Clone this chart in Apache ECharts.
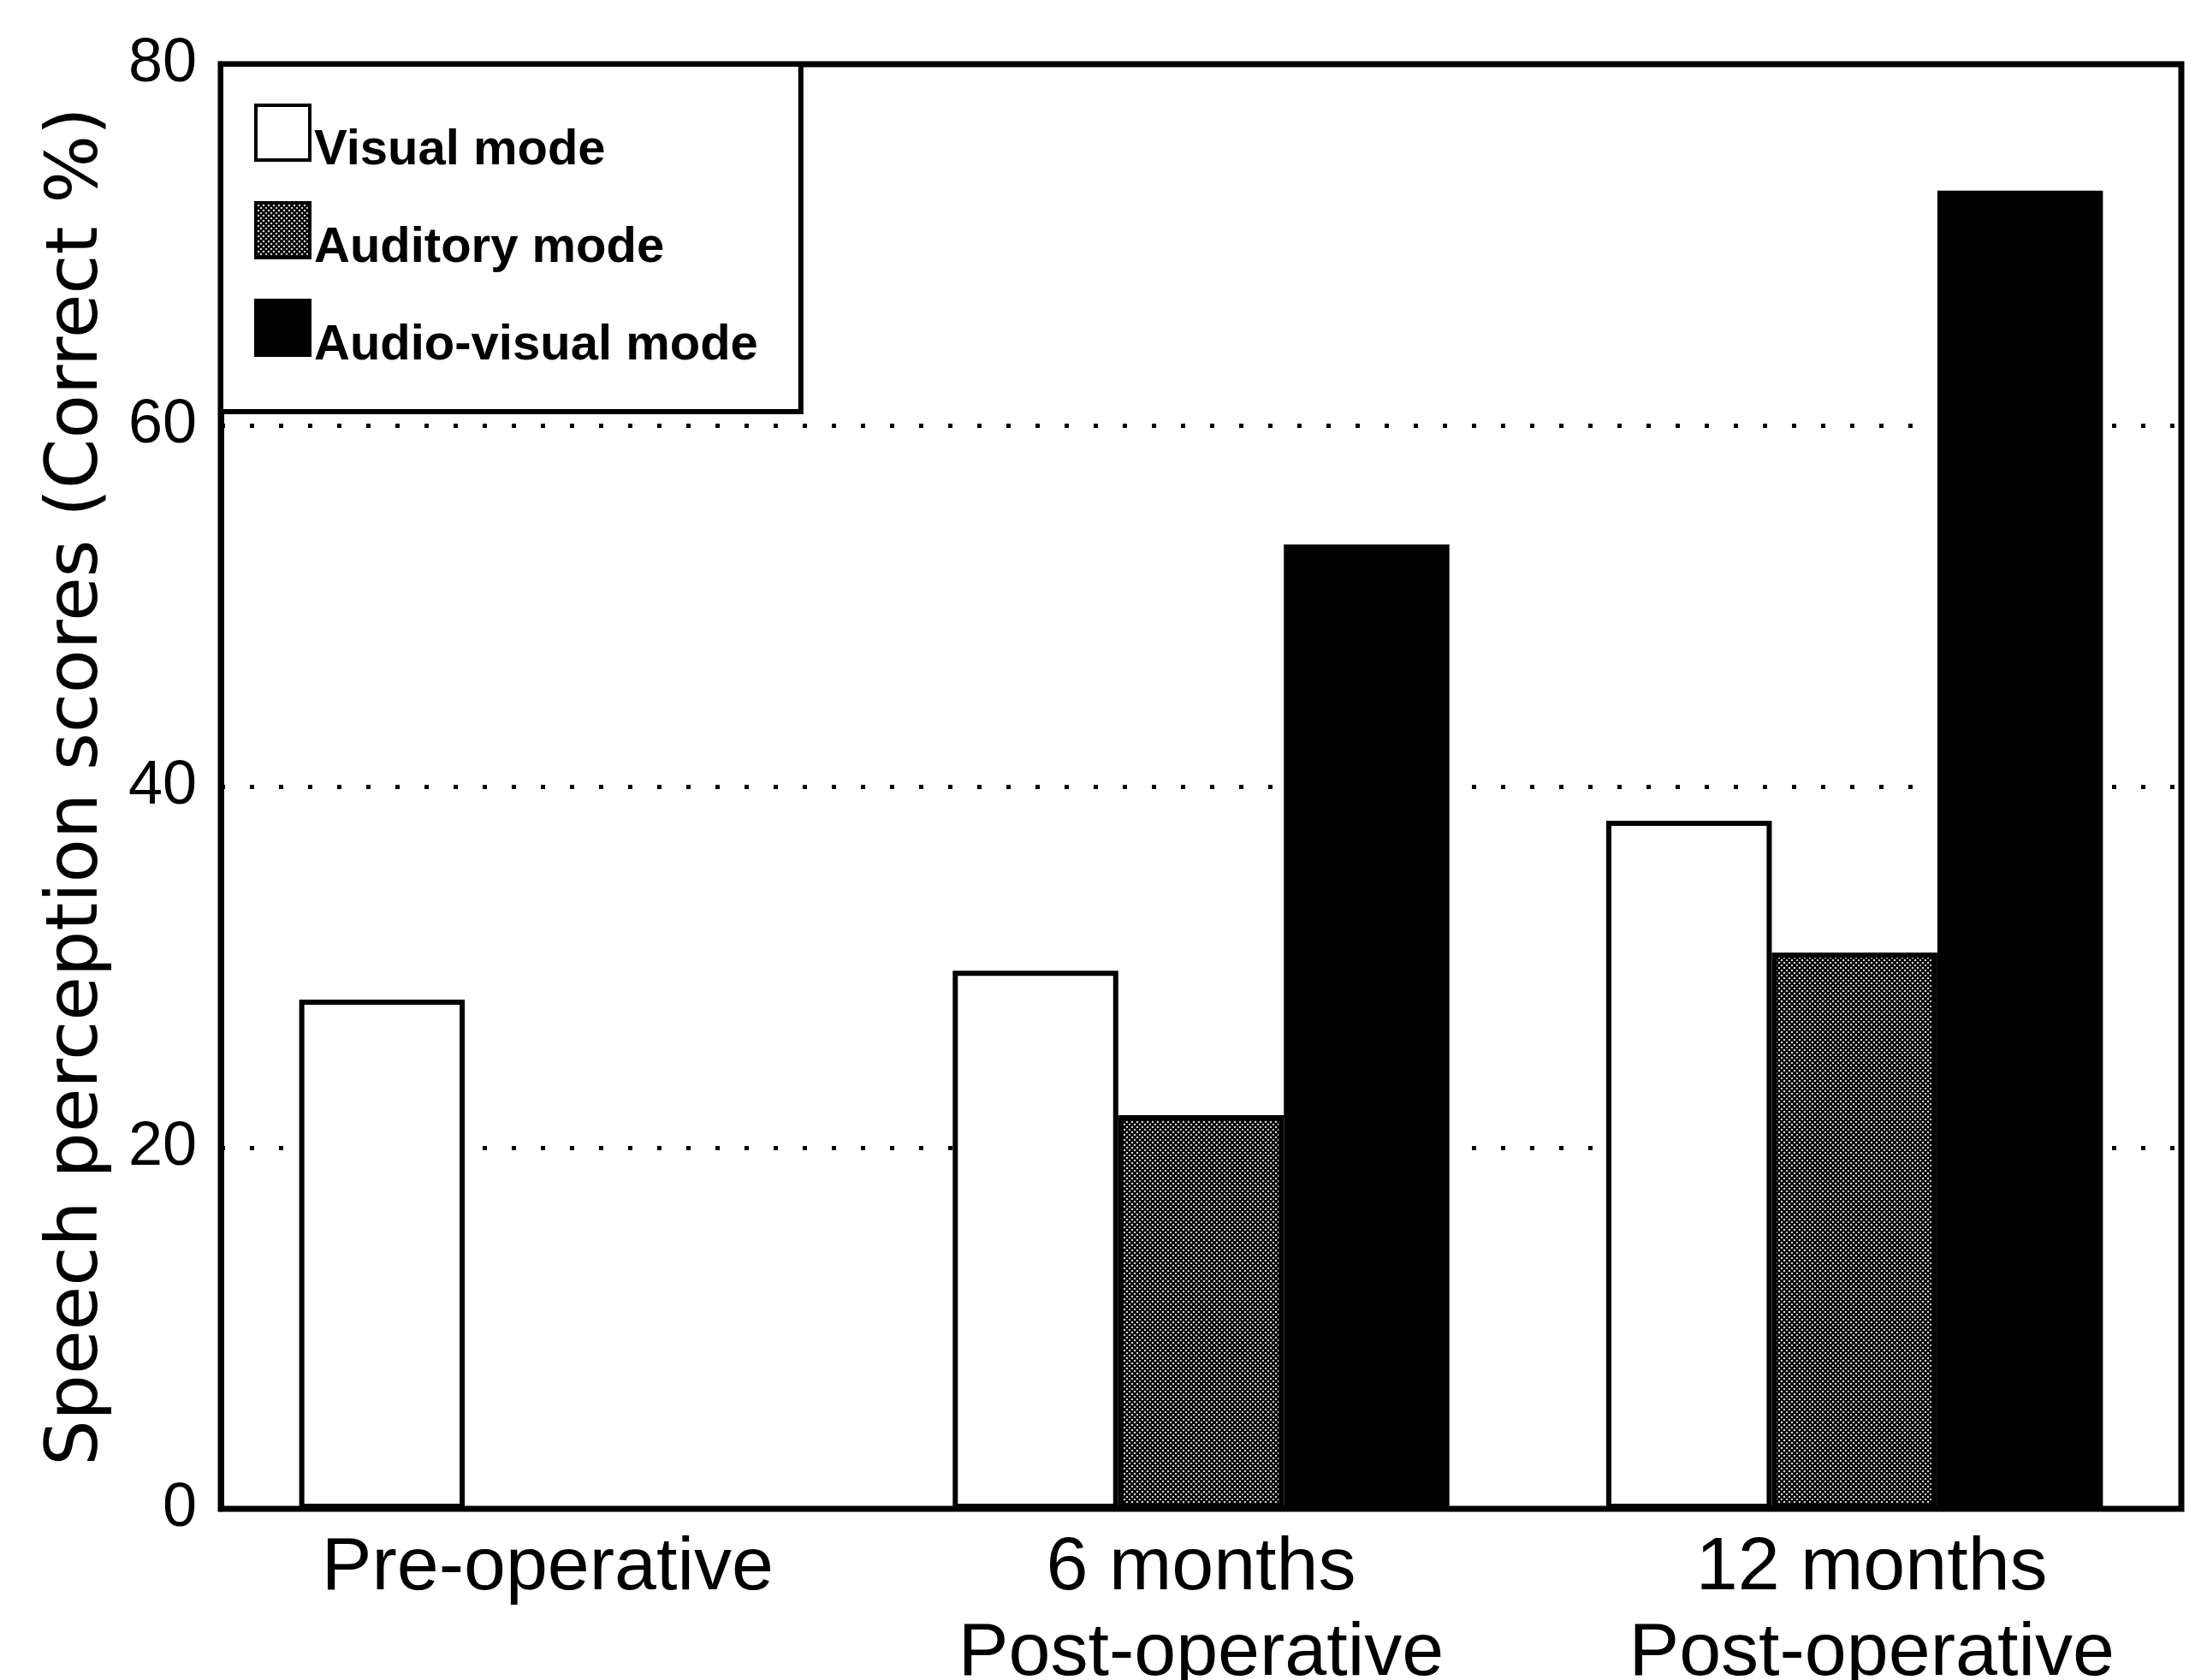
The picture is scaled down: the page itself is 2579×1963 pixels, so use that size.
<!DOCTYPE html>
<html>
<head>
<meta charset="utf-8">
<script src="https://cdn.jsdelivr.net/npm/echarts@6/dist/echarts.min.js"></script>
<style>
html,body{margin:0;padding:0;background:#fff;}
#chart{width:2579px;height:1963px;}
</style>
</head>
<body>
<div id="chart"></div>
<script>
const categories = ['Pre-operative', '6 months\nPost-operative', '12 months\nPost-operative'];
const seriesNames = ['Visual mode', 'Auditory mode', 'Audio-visual mode'];
const visualScores = [28.2, 29.8, 38.1];
const auditoryScores = [null, 21.8, 30.8];
const audioVisualScores = [null, 53.4, 73.0];
const yTicks = [0, 20, 40, 60, 80];

// texture for auditory mode fill
function makePattern() {
  const c = document.createElement('canvas');
  c.width = 12; c.height = 12;
  const g = c.getContext('2d');
  g.fillStyle = '#ffffff';
  g.fillRect(0, 0, 12, 12);
  g.strokeStyle = '#000000';
  g.lineWidth = 2.3;
  for (let y = 0; y < 12; y += 3) {
    for (let x = 0; x < 12; x += 3) {
      g.beginPath();
      if (((x + y) / 3) % 2 === 0) { g.moveTo(x, y + 3); g.lineTo(x + 3, y); }
      else { g.moveTo(x, y); g.lineTo(x + 3, y + 3); }
      g.stroke();
    }
  }
  return c;
}
const pattern = makePattern();

// category labels: last one slightly offset as in the original print
const xData = categories.map(function (c, i) {
  return i === categories.length - 1 ? {value: c, textStyle: {padding: [0, 0, 0, 40]}} : c;
});

const chart = echarts.init(document.getElementById('chart'), null, {renderer: 'canvas'});
const barBorder = 6;
chart.setOption({
  animation: false,
  backgroundColor: '#ffffff',
  grid: {
    left: 258, right: 30, top: 75, bottom: 200,
    containLabel: false, outerBoundsMode: 'none',
    show: true, borderColor: '#000', borderWidth: 7, backgroundColor: 'transparent'
  },
  legend: {
    orient: 'vertical',
    left: 258, top: 75,
    padding: [46, 50, 48, 39],
    icon: 'rect',
    itemWidth: 63, itemHeight: 64, itemGap: 30, itemTextGap: 16,
    backgroundColor: '#fff',
    borderColor: '#000', borderWidth: 6,
    formatter: function (name) { return '{n|' + name + '}'; },
    textStyle: {
      fontFamily: 'Liberation Sans, Arial, sans-serif', fontSize: 58, fontWeight: 'bold', color: '#000',
      rich: {n: {fontFamily: 'Liberation Sans, Arial, sans-serif', fontSize: 58, fontWeight: 'bold', color: '#000', lineHeight: 100, verticalAlign: 'bottom'}}
    },
    itemStyle: {borderWidth: 4, borderColor: '#000'},
    data: seriesNames
  },
  xAxis: {
    type: 'category',
    data: xData,
    axisLine: {show: true, lineStyle: {color: '#000', width: 6}},
    axisTick: {show: false},
    axisLabel: {
      margin: 20, color: '#000', fontSize: 88, lineHeight: 100,
      fontFamily: 'Liberation Sans, Arial, sans-serif'
    },
    splitLine: {show: false}
  },
  yAxis: {
    type: 'value',
    min: 0, max: 80, interval: 20,
    name: 'Speech perception scores (Correct %)',
    nameLocation: 'middle',
    nameRotate: 90,
    nameGap: 125,
    nameTextStyle: {fontFamily: 'DejaVu Sans, sans-serif', fontSize: 84, color: '#000'},
    axisLine: {show: true, lineStyle: {color: '#000', width: 7}},
    axisTick: {show: false},
    axisLabel: {
      margin: 28, color: '#000', fontSize: 72, padding: [14, 0, 0, 0],
      fontFamily: 'Liberation Sans, Arial, sans-serif',
      formatter: function (v) { return yTicks.indexOf(v) >= 0 ? String(v) : ''; }
    },
    splitLine: {show: true, lineStyle: {color: '#000', width: 5, type: [5, 29]}}
  },
  series: [
    {
      name: seriesNames[0], type: 'bar', data: visualScores,
      barGap: '0%', barCategoryGap: '24%',
      itemStyle: {color: '#ffffff', borderColor: '#000', borderWidth: barBorder}
    },
    {
      name: seriesNames[1], type: 'bar', data: auditoryScores,
      itemStyle: {color: {image: pattern, repeat: 'repeat'}, borderColor: '#000', borderWidth: barBorder}
    },
    {
      name: seriesNames[2], type: 'bar', data: audioVisualScores,
      itemStyle: {color: '#000000', borderColor: '#000', borderWidth: barBorder}
    }
  ]
});
</script>
</body>
</html>
